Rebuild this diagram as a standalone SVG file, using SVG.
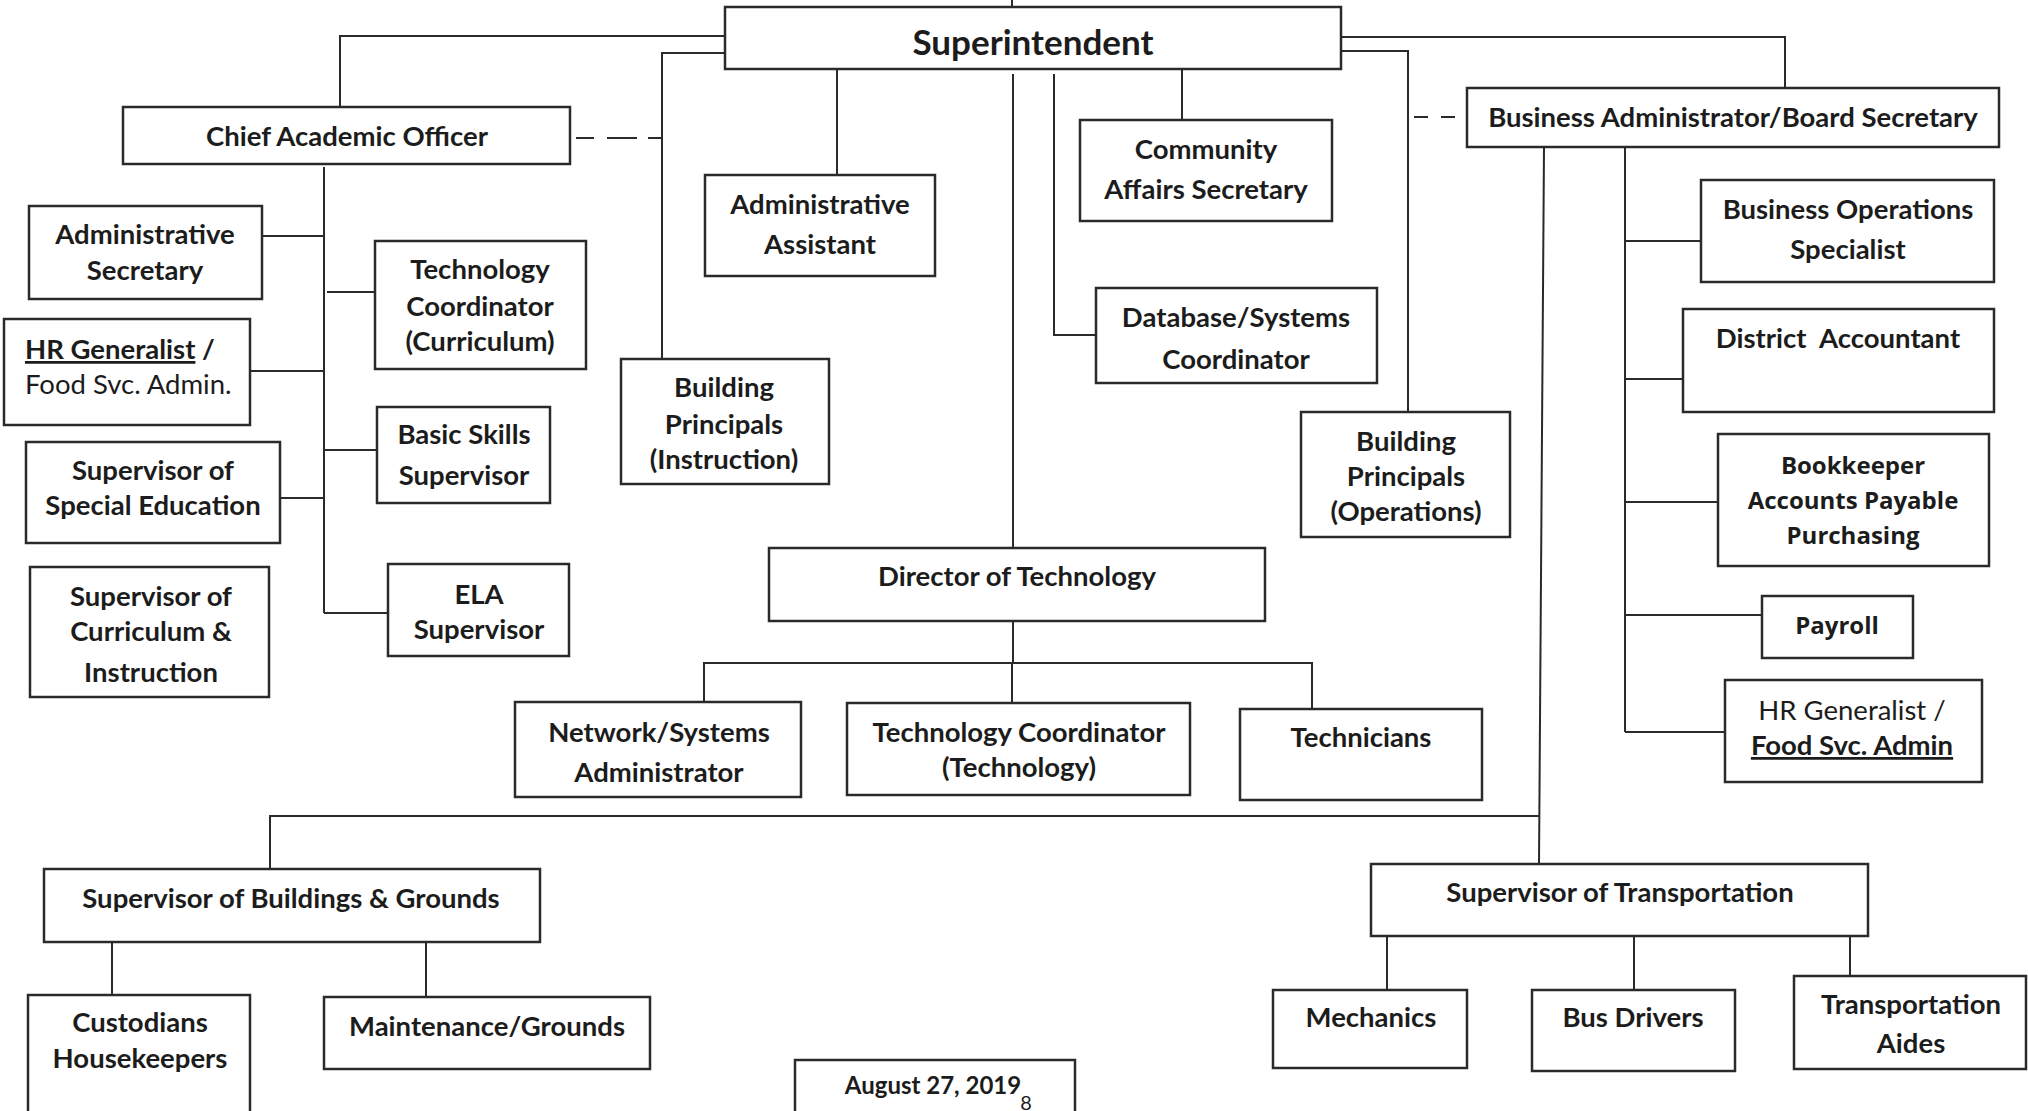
<svg xmlns="http://www.w3.org/2000/svg" width="2028" height="1111" viewBox="0 0 2028 1111">
<style>
.bx{fill:#fff;stroke:#2a2a2a;stroke-width:2.5}
.ln{fill:none;stroke:#2a2a2a;stroke-width:2}
.dash{fill:none;stroke:#2a2a2a;stroke-width:2}
text{font-family:Lato,"Liberation Sans",sans-serif;font-weight:700;font-size:27.5px;fill:#1c1c1c;text-anchor:middle}
.big{font-size:35px}
.reg{font-weight:400}
.ver{font-family:"Open Sans","DejaVu Sans",sans-serif;font-size:24px}
.l{text-anchor:start}
.ul{text-decoration:underline}
.sm{font-size:24px}
.pg{font-size:20px}
</style>
<rect width="2028" height="1111" fill="#fff"/>
<g id="connectors">
<path class="ln" d="M1012,0 V7"/>
<path class="ln" d="M340,107 V36 H725"/>
<path class="ln" d="M725,53 H662 V359"/>
<path class="dash" d="M576,138 H594 M607,138 H637 M648,138 H662"/>
<path class="ln" d="M837,69 V175"/>
<path class="ln" d="M1013,74 V548"/>
<path class="ln" d="M1054,74 V335 H1096"/>
<path class="ln" d="M1182,69 V120"/>
<path class="ln" d="M1341,37 H1785 V88"/>
<path class="ln" d="M1341,51 H1408 V412"/>
<path class="dash" d="M1414,117 H1428 M1441,117 H1455"/>
<path class="ln" d="M324,167 V613"/>
<path class="ln" d="M262,236 H324 M327,292 H375 M250,371 H324 M324,450 H377 M280,498 H324 M324,613 H388"/>
<path class="ln" d="M1544,147 L1539,864"/>
<path class="ln" d="M270,869 V816 H1540"/>
<path class="ln" d="M1625,147 V732"/>
<path class="ln" d="M1625,241 H1701 M1625,379 H1683 M1625,502 H1718 M1625,615 H1762 M1625,732 H1725"/>
<path class="ln" d="M1013,621 V663 M704,702 V663 H1312 V709 M1012,663 V703"/>
<path class="ln" d="M112,942 V995 M426,942 V997"/>
<path class="ln" d="M1387,936 V990 M1634,936 V990 M1850,936 V976"/>
</g>
<g id="superintendent"><rect class="bx" x="725" y="7" width="616" height="62"/><text class="big" x="1033" y="55">Superintendent</text></g>
<g id="chief-academic-officer"><rect class="bx" x="123" y="107" width="447" height="57"/><text x="347" y="146">Chief Academic Officer</text></g>
<g id="administrative-secretary"><rect class="bx" x="29" y="206" width="233" height="93"/><text x="145" y="244">Administrative</text><text x="145" y="280">Secretary</text></g>
<g id="technology-coordinator-curriculum"><rect class="bx" x="375" y="241" width="211" height="128"/><text x="480" y="279">Technology</text><text x="480" y="316">Coordinator</text><text x="480" y="351">(Curriculum)</text></g>
<g id="hr-generalist-left"><rect class="bx" x="4" y="319" width="246" height="106"/><text class="l" x="25" y="359"><tspan class="ul">HR Generalist</tspan> /</text><text class="l reg" x="25" y="394">Food Svc. Admin.</text></g>
<g id="basic-skills-supervisor"><rect class="bx" x="377" y="407" width="173" height="96"/><text x="464" y="444">Basic Skills</text><text x="464" y="485">Supervisor</text></g>
<g id="supervisor-special-education"><rect class="bx" x="26" y="442" width="254" height="101"/><text x="153" y="480">Supervisor of</text><text x="153" y="515">Special Education</text></g>
<g id="supervisor-curriculum-instruction"><rect class="bx" x="30" y="567" width="239" height="130"/><text x="151" y="606">Supervisor of</text><text x="151" y="641">Curriculum &amp;</text><text x="151" y="682">Instruction</text></g>
<g id="ela-supervisor"><rect class="bx" x="388" y="564" width="181" height="92"/><text x="479" y="604">ELA</text><text x="479" y="639">Supervisor</text></g>
<g id="administrative-assistant"><rect class="bx" x="705" y="175" width="230" height="101"/><text x="820" y="214">Administrative</text><text x="820" y="254">Assistant</text></g>
<g id="community-affairs-secretary"><rect class="bx" x="1080" y="120" width="252" height="101"/><text x="1206" y="159">Community</text><text x="1206" y="199">Affairs Secretary</text></g>
<g id="database-systems-coordinator"><rect class="bx" x="1096" y="288" width="281" height="95"/><text x="1236" y="327">Database/Systems</text><text x="1236" y="369">Coordinator</text></g>
<g id="business-administrator"><rect class="bx" x="1467" y="88" width="532" height="59"/><text x="1733" y="127">Business Administrator/Board Secretary</text></g>
<g id="business-operations-specialist"><rect class="bx" x="1701" y="180" width="293" height="102"/><text x="1848" y="219">Business Operations</text><text x="1848" y="259">Specialist</text></g>
<g id="district-accountant"><rect class="bx" x="1683" y="309" width="311" height="103"/><text x="1838" y="348" xml:space="preserve">District  Accountant</text></g>
<g id="bookkeeper"><rect class="bx" x="1718" y="434" width="271" height="132"/><text class="ver" x="1853" y="474">Bookkeeper</text><text class="ver" x="1853" y="509">Accounts Payable</text><text class="ver" x="1853" y="544">Purchasing</text></g>
<g id="payroll"><rect class="bx" x="1762" y="596" width="151" height="62"/><text class="ver" x="1837" y="634">Payroll</text></g>
<g id="hr-generalist-right"><rect class="bx" x="1725" y="680" width="257" height="102"/><text class="reg" x="1852" y="720">HR Generalist /</text><text class="ul" x="1852" y="755">Food Svc. Admin</text></g>
<g id="building-principals-instruction"><rect class="bx" x="621" y="359" width="208" height="125"/><text x="724" y="397">Building</text><text x="724" y="434">Principals</text><text x="724" y="469">(Instruction)</text></g>
<g id="building-principals-operations"><rect class="bx" x="1301" y="412" width="209" height="125"/><text x="1406" y="451">Building</text><text x="1406" y="486">Principals</text><text x="1406" y="521">(Operations)</text></g>
<g id="director-of-technology"><rect class="bx" x="769" y="548" width="496" height="73"/><text x="1017" y="586">Director of Technology</text></g>
<g id="network-systems-administrator"><rect class="bx" x="515" y="702" width="286" height="95"/><text x="659" y="742">Network/Systems</text><text x="659" y="782">Administrator</text></g>
<g id="technology-coordinator-technology"><rect class="bx" x="847" y="703" width="343" height="92"/><text x="1019" y="742">Technology Coordinator</text><text x="1019" y="777">(Technology)</text></g>
<g id="technicians"><rect class="bx" x="1240" y="709" width="242" height="91"/><text x="1361" y="747">Technicians</text></g>
<g id="supervisor-buildings-grounds"><rect class="bx" x="44" y="869" width="496" height="73"/><text x="291" y="908">Supervisor of Buildings &amp; Grounds</text></g>
<g id="custodians-housekeepers"><rect class="bx" x="28" y="995" width="222" height="125"/><text x="140" y="1032">Custodians</text><text x="140" y="1068">Housekeepers</text></g>
<g id="maintenance-grounds"><rect class="bx" x="324" y="997" width="326" height="72"/><text x="487" y="1036">Maintenance/Grounds</text></g>
<g id="supervisor-transportation"><rect class="bx" x="1371" y="864" width="497" height="72"/><text x="1620" y="902">Supervisor of Transportation</text></g>
<g id="mechanics"><rect class="bx" x="1273" y="990" width="194" height="78"/><text x="1371" y="1027">Mechanics</text></g>
<g id="bus-drivers"><rect class="bx" x="1532" y="990" width="203" height="81"/><text x="1633" y="1027">Bus Drivers</text></g>
<g id="transportation-aides"><rect class="bx" x="1794" y="976" width="232" height="93"/><text x="1911" y="1014">Transportation</text><text x="1911" y="1053">Aides</text></g>
<g id="date-box"><rect class="bx" x="795" y="1060" width="280" height="60"/><text class="sm" x="933" y="1094">August 27, 2019</text><text class="reg pg" x="1026" y="1110">8</text></g>
</svg>
